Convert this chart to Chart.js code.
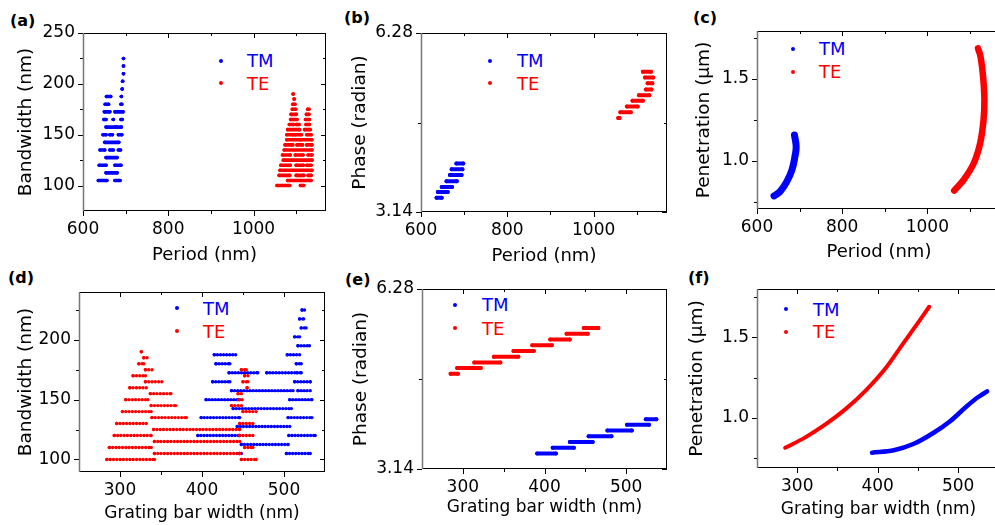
<!DOCTYPE html>
<html lang="en">
<head>
<meta charset="UTF-8">
<script src="https://cdn.jsdelivr.net/npm/chart.js"></script>
<style>
    body {
        margin: 0;
        width: 995px;
        height: 525px;
        overflow: hidden;
        position: relative;
        background: #fff;
        font-family: 'DejaVu Sans', sans-serif;
    }
    canvas { position: absolute; }
    .lbl { position: absolute; font-weight: bold; font-size: 16px; line-height: 16px; }
    .leg { position: absolute; font-size: 18px; line-height: 18px; }
    .dot { position: absolute; width: 4px; height: 4px; border-radius: 50%; }
    .tm { color: #0000ff; } .tm.dot { background: #0000ff; }
    .te { color: #ff0000; } .te.dot { background: #ff0000; }
</style>
<title>Grating bandwidth, phase and penetration</title>
</head>
<body>
<div class="lbl" style="left:10px;top:13px">(a)</div>
<div class="lbl" style="left:344px;top:10px">(b)</div>
<div class="lbl" style="left:693px;top:10px">(c)</div>
<div class="lbl" style="left:8px;top:270px">(d)</div>
<div class="lbl" style="left:345px;top:272px">(e)</div>
<div class="lbl" style="left:688px;top:270px">(f)</div>

<div class="dot tm" style="left:219px;top:59px"></div><div class="leg tm" style="left:247px;top:52px">TM</div>
<div class="dot te" style="left:219px;top:81px"></div><div class="leg te" style="left:247px;top:75px">TE</div>
<div class="dot tm" style="left:488px;top:59px"></div><div class="leg tm" style="left:517px;top:52px">TM</div>
<div class="dot te" style="left:488px;top:81px"></div><div class="leg te" style="left:517px;top:75px">TE</div>
<div class="dot tm" style="left:791px;top:47px"></div><div class="leg tm" style="left:819px;top:40px">TM</div>
<div class="dot te" style="left:791px;top:70px"></div><div class="leg te" style="left:819px;top:63px">TE</div>
<div class="dot tm" style="left:175px;top:306px"></div><div class="leg tm" style="left:203px;top:300px">TM</div>
<div class="dot te" style="left:175px;top:329px"></div><div class="leg te" style="left:203px;top:323px">TE</div>
<div class="dot tm" style="left:453px;top:303px"></div><div class="leg tm" style="left:482px;top:296px">TM</div>
<div class="dot te" style="left:453px;top:326px"></div><div class="leg te" style="left:482px;top:320px">TE</div>
<div class="dot tm" style="left:784px;top:307px"></div><div class="leg tm" style="left:813px;top:301px">TM</div>
<div class="dot te" style="left:784px;top:330px"></div><div class="leg te" style="left:813px;top:323px">TE</div>

<script>
    const BLUE = '#0000ff', RED = '#ff0000';

    // ticks shared by the period panels (a-c) and the bar width panels (d-f)
    const periodTicks = [600, 700, 800, 900, 1000, 1100];
    const periodLabels = ['600', '', '800', '', '1000', ''];
    const widthTicks = [300, 350, 400, 450, 500];
    const widthLabels = ['300', '', '400', '', '500'];
    const bwTicks = [100, 125, 150, 175, 200, 225, 250];
    const bwLabels = ['100', '', '150', '', '200', '', '250'];
    const phaseTicks = [3.14, 4.71, 6.28];
    const phaseLabels = ['3.14', '', '6.28'];
    const penTicks = [0.75, 1.0, 1.25, 1.5, 1.75];
    const penLabels = ['', '1.0', '', '1.5', ''];

    // runs of points: [y, x start, x end]
    // (a) bandwidth (nm) vs period (nm)
    const aTM = [
        [225, 695, 695], [217.5, 695, 695], [210, 695, 695], [202.5, 693, 693], [195, 692, 692],
        [187.5, 655, 665], [187.5, 690, 690],
        [180, 652, 660], [180, 689, 691],
        [172.5, 650, 663], [172.5, 675, 694],
        [165, 649, 654], [165, 671, 671], [165, 689, 692],
        [157.5, 654, 675], [157.5, 679, 690],
        [150, 647, 654], [150, 663, 669], [150, 683, 691],
        [142.5, 651, 684],
        [135, 640, 651], [135, 663, 671], [135, 683, 688],
        [127.5, 654, 680],
        [120, 638, 654], [120, 675, 689],
        [112.5, 654, 680],
        [105, 636, 656], [105, 675, 687]
    ];
    const aTE = [
        [190, 1093, 1093], [185, 1095, 1096], [180, 1092, 1097],
        [175, 1091, 1099], [175, 1127, 1130],
        [170, 1088, 1100], [170, 1124, 1130],
        [165, 1087, 1102], [165, 1122, 1131],
        [160, 1084, 1094], [160, 1100, 1107], [160, 1123, 1131],
        [155, 1080, 1108], [155, 1120, 1133],
        [150, 1078, 1092], [150, 1098, 1112], [150, 1125, 1135],
        [145, 1078, 1108], [145, 1112, 1137],
        [140, 1074, 1092], [140, 1102, 1115], [140, 1125, 1137],
        [135, 1072, 1137],
        [130, 1068, 1086], [130, 1098, 1116], [130, 1128, 1137],
        [125, 1070, 1137],
        [120, 1064, 1086], [120, 1100, 1117], [120, 1125, 1135],
        [115, 1062, 1137],
        [110, 1060, 1085], [110, 1100, 1118], [110, 1128, 1135],
        [105, 1080, 1135],
        [100, 1055, 1085], [100, 1110, 1118]
    ];

    // (b) phase (radian) vs period (nm)
    const bTM = [
        [3.39, 636, 648], [3.49, 639, 662], [3.58, 648, 672], [3.68, 659, 683],
        [3.79, 667, 694], [3.89, 671, 696], [3.99, 682, 698]
    ];
    const bTE = [
        [4.79, 1057, 1060], [4.89, 1062, 1086], [4.99, 1077, 1102], [5.09, 1090, 1114],
        [5.19, 1105, 1129], [5.29, 1121, 1134], [5.40, 1125, 1136], [5.50, 1119, 1138],
        [5.60, 1114, 1133]
    ];

    // (c) penetration (um) vs period (nm): [period, penetration]
    const cTM = [[640, 0.787], [654, 0.813], [670, 0.874], [682, 0.945], [689, 1.026], [692, 1.087], [688, 1.159]];
    const cTE = [[1063, 0.819], [1085, 0.884], [1109, 0.986], [1124, 1.108], [1132, 1.25], [1134, 1.372],
                 [1131, 1.514], [1125, 1.636], [1119, 1.687]];

    // (d) bandwidth (nm) vs grating bar width (nm)
    const dTM = [
        [225, 522, 525], [217.5, 519, 524], [210, 521, 527], [202.5, 513, 519], [195, 517, 531],
        [187.5, 415, 441], [187.5, 504, 519],
        [180, 417, 434], [180, 515, 521],
        [172.5, 433, 468], [172.5, 479, 513], [172.5, 516, 521],
        [165, 413, 434], [165, 513, 532],
        [157.5, 436, 511], [157.5, 517, 532],
        [150, 405, 446], [150, 507, 534],
        [142.5, 438, 509],
        [135, 399, 446], [135, 505, 534],
        [127.5, 443, 507],
        [120, 395, 446], [120, 506, 538],
        [112.5, 448, 505],
        [105, 446, 448], [105, 503, 532]
    ];
    const dTE = [
        [190, 326, 326], [185, 329, 333], [180, 323, 329],
        [175, 331, 339], [175, 448, 454],
        [170, 316, 331], [170, 452, 456],
        [165, 331, 351], [165, 450, 456],
        [160, 312, 332], [160, 455, 455],
        [155, 337, 362], [155, 444, 448],
        [150, 307, 334], [150, 445, 449],
        [145, 338, 368], [145, 436, 448],
        [140, 303, 338], [140, 450, 466],
        [135, 339, 381],
        [130, 296, 332], [130, 446, 462],
        [125, 341, 446],
        [120, 293, 338], [120, 446, 462],
        [115, 342, 446],
        [110, 287, 338], [110, 452, 462],
        [105, 342, 446],
        [100, 284, 342], [100, 448, 466]
    ];

    // (e) phase (radian) vs grating bar width (nm)
    const eTM = [
        [3.41, 391, 414], [3.51, 410, 436], [3.61, 431, 459], [3.71, 454, 482],
        [3.81, 477, 507], [3.91, 501, 528], [4.01, 524, 537]
    ];
    const eTE = [
        [4.80, 285, 294], [4.90, 293, 322], [5.00, 314, 346], [5.10, 338, 368], [5.20, 362, 387],
        [5.30, 385, 409], [5.40, 407, 431], [5.50, 427, 453], [5.60, 448, 466]
    ];

    // (f) penetration (um) vs grating bar width (nm)
    const fTM = [[393, 0.785], [420, 0.80], [445, 0.84], [470, 0.91], [490, 0.98], [510, 1.07], [525, 1.13], [536, 1.165]];
    const fTE = [[285, 0.815], [310, 0.88], [335, 0.96], [360, 1.055], [385, 1.17], [410, 1.31], [430, 1.45], [450, 1.59], [464, 1.69]];

    // rows of dots -> one line dataset, broken between runs
    const runs = (rows, color, size, gap) => {
        const data = [];
        rows.forEach(([y, x0, x1]) => {
            data.push({x: x0, y: y}, {x: x1, y: y}, {x: x1, y: null});
        });
        return {
            data, showLine: true, borderColor: color, backgroundColor: color,
            borderWidth: size, pointRadius: size / 2, pointBorderWidth: 0,
            borderCapStyle: 'round', spanGaps: false,
            borderDash: gap ? [0, gap] : []
        };
    };
    const band = (pts, color, size, mode) => ({
        data: pts.map(([x, y]) => ({x, y})), showLine: true, borderColor: color,
        borderWidth: size, pointRadius: 0, tension: 0.4,
        cubicInterpolationMode: mode || 'default',
        borderCapStyle: 'round', borderJoinStyle: 'round'
    });

    // box frame with outward ticks on left/bottom, inward on top/right
    const frame = {
        id: 'frame',
        afterDraw(chart) {
            const {ctx, chartArea: a, scales: {x, y}} = chart;
            const xl = x.options.tickLabels, yl = y.options.tickLabels;
            ctx.save();
            ctx.lineWidth = 1;
            ctx.strokeStyle = '#000';
            ctx.beginPath();
            ctx.moveTo(a.left, a.top + 0.5); ctx.lineTo(a.right, a.top + 0.5);
            ctx.moveTo(a.right - 0.5, a.top); ctx.lineTo(a.right - 0.5, a.bottom);
            ctx.moveTo(a.left, a.bottom - 0.5); ctx.lineTo(a.right, a.bottom - 0.5);
            x.ticks.forEach((t, i) => {
                const px = Math.round(x.getPixelForValue(t.value)) + 0.5;
                const len = xl[i] ? 5 : 3;
                ctx.moveTo(px, a.bottom); ctx.lineTo(px, a.bottom + len);
                ctx.moveTo(px, a.top); ctx.lineTo(px, a.top + len);
            });
            y.ticks.forEach((t, i) => {
                const py = Math.round(y.getPixelForValue(t.value)) + 0.5;
                const len = yl[i] ? 5 : 3;
                ctx.moveTo(a.left, py); ctx.lineTo(a.left - len, py);
                ctx.moveTo(a.right, py); ctx.lineTo(a.right - len, py);
            });
            ctx.stroke();
            ctx.strokeStyle = '#777';
            ctx.lineWidth = 1.5;
            ctx.beginPath();
            ctx.moveTo(a.left + 0.5, a.top); ctx.lineTo(a.left + 0.5, a.bottom);
            ctx.stroke();
            ctx.restore();
        }
    };

    const tickFont = {family: 'DejaVu Sans', size: 17};

    const axis = (range, ticks, labels, title, titleSize, fit) => ({
        type: 'linear', min: range[0], max: range[1],
        tickLabels: labels,
        grid: {display: false, drawTicks: false},
        border: {display: false},
        afterBuildTicks: s => { s.ticks = ticks.map(v => ({value: v})); },
        ticks: {
            padding: 8, color: '#000', font: tickFont, autoSkip: false, maxRotation: 0,
            callback: (v, i) => labels[i]
        },
        title: {display: true, text: title, color: '#000', padding: 0,
                font: {family: 'DejaVu Sans', size: titleSize}},
        afterFit: fit
    });

    const panels = [
        {box: [83, 33, 326, 211], yw: 68, bottom: 266, x: [600, 1170], y: [75, 250],
         xt: [periodTicks, periodLabels, 'Period (nm)', 18], yt: [bwTicks, bwLabels, 'Bandwidth (nm)'],
         sets: [runs(aTE, RED, 3.6), runs(aTM, BLUE, 3.6)]},
        {box: [421, 33, 667, 212], yw: 72, bottom: 267, x: [600, 1170], y: [3.14, 6.28],
         xt: [periodTicks, periodLabels, 'Period (nm)', 18], yt: [phaseTicks, phaseLabels, 'Phase (radian)'],
         sets: [runs(bTE, RED, 4), runs(bTM, BLUE, 4)]},
        {box: [757, 31, 1001, 209], yw: 64, bottom: 263, x: [600, 1173], y: [0.707, 1.793],
         xt: [periodTicks, periodLabels, 'Period (nm)', 18], yt: [penTicks, penLabels, 'Penetration (\u03bcm)'],
         sets: [band(cTE, RED, 6.5), band(cTM, BLUE, 7)]},
        {box: [79, 292, 325, 472], yw: 64, bottom: 524, x: [250, 550], y: [89.5, 240],
         xt: [widthTicks, widthLabels, 'Grating bar width (nm)', 17], yt: [bwTicks.slice(0, 6), bwLabels.slice(0, 6), 'Bandwidth (nm)'],
         sets: [runs(dTE, RED, 3.4, 3.3), runs(dTM, BLUE, 3.4, 3.1)]},
        {box: [422, 289, 667, 469], yw: 72, bottom: 518, x: [250, 550], y: [3.14, 6.28],
         xt: [widthTicks, widthLabels, 'Grating bar width (nm)', 17], yt: [phaseTicks, phaseLabels, 'Phase (radian)'],
         sets: [runs(eTE, RED, 4), runs(eTM, BLUE, 4)]},
        {box: [757, 289, 1000, 468], yw: 71, bottom: 520, x: [250, 552], y: [0.69, 1.80],
         xt: [widthTicks, widthLabels, 'Grating bar width (nm)', 17], yt: [penTicks, penLabels, 'Penetration (\u03bcm)'],
         sets: [band(fTE, RED, 4, 'monotone'), band(fTM, BLUE, 4.5, 'monotone')]}
    ];

    const padT = 22, padR = 12;
    panels.forEach(p => {
        const [L, T, R, B] = p.box;
        const c = document.createElement('canvas');
        c.width = R - L + p.yw + padR;
        c.height = p.bottom - T + padT;
        c.style.left = (L - p.yw) + 'px';
        c.style.top = (T - padT) + 'px';
        document.body.appendChild(c);

        const chart = new Chart(c, {
            type: 'scatter',
            data: {datasets: p.sets},
            options: {
                responsive: false,
                animation: false,
                layout: {padding: {top: padT, right: padR, left: 0, bottom: 0}},
                plugins: {legend: {display: false}, tooltip: {enabled: false}},
                scales: {
                    x: axis(p.x, p.xt[0], p.xt[1], p.xt[2], p.xt[3], s => { s.height = p.bottom - B; }),
                    y: axis(p.y, p.yt[0], p.yt[1], p.yt[2], 18.5, s => { s.width = p.yw; })
                }
            },
            plugins: [frame]
        });

        // grow the canvas if the library kept the plot area smaller than wanted
        let a = chart.chartArea;
        const dw = Math.round((R - L) - (a.right - a.left));
        const dh = Math.round((B - T) - (a.bottom - a.top));
        if (dw || dh) {
            chart.resize(c.width + dw, c.height + dh);
            a = chart.chartArea;
        }
        c.style.left = Math.round(L - a.left) + 'px';
        c.style.top = Math.round(T - a.top) + 'px';
    });
</script>
</body>
</html>
